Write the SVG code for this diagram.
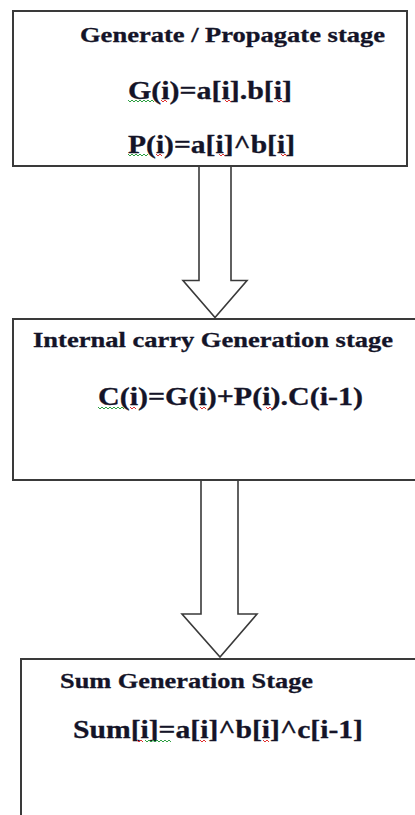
<svg xmlns="http://www.w3.org/2000/svg" width="415" height="815" viewBox="0 0 415 815">
<style>
.box{fill:#fff;stroke:#3a3a3a;stroke-width:2}
.arrow{fill:#fff;stroke:#3a3a3a;stroke-width:1.6;stroke-linejoin:miter}
.t{font-family:"Liberation Serif","Times New Roman",serif;font-weight:bold;fill:#141428;stroke:#141428;stroke-width:0.3}
.title{font-size:21px}
.eq{font-size:25px}
.sqg{fill:none;stroke:#2ea043;stroke-width:1}
.sqr{fill:none;stroke:#e03030;stroke-width:1}
</style>
<rect width="415" height="815" fill="#fff"/>
<g id="connectors">
<polygon class="arrow" points="199,166 199,280.5 183,280.5 215,317.5 247,280.5 231,280.5 231,166"/>
<polygon class="arrow" points="201,480 201,614 182,614 220,657 257,614 238,614 238,480"/>
</g>
<g id="node-generate">
<rect class="box" x="13" y="11" width="394" height="155"/>
<text class="t title" x="80" y="42" textLength="305" lengthAdjust="spacingAndGlyphs">Generate / Propagate stage</text>
<text class="t eq" x="128" y="99" textLength="164" lengthAdjust="spacingAndGlyphs">G(i)=a[i].b[i]</text>
<text class="t eq" x="128" y="153" textLength="167" lengthAdjust="spacingAndGlyphs">P(i)=a[i]^b[i]</text>
<path class="sqg" d="M128,100 l2,2 l2,-2 l2,2 l2,-2 l2,2 l2,-2 l2,2 l2,-2 l2,2 l2,-2 l2,2 l2,-2 l2,2"/>
<path class="sqr" d="M161,100 l2,2 l2,-2 l2,2"/>
<path class="sqr" d="M225,100 l2,2 l2,-2 l2,2"/>
<path class="sqr" d="M277,100 l2,2 l2,-2 l2,2"/>
<path class="sqg" d="M128,154 l2,2 l2,-2 l2,2 l2,-2 l2,2 l2,-2 l2,2 l2,-2 l2,2 l2,-2"/>
<path class="sqr" d="M156,154 l2,2 l2,-2 l2,2"/>
<path class="sqr" d="M219,154 l2,2 l2,-2 l2,2"/>
<path class="sqr" d="M281,154 l2,2 l2,-2 l2,2"/>
</g>
<g id="node-carry">
<rect class="box" x="13" y="319" width="410" height="161"/>
<text class="t title" x="33" y="347" textLength="360" lengthAdjust="spacingAndGlyphs">Internal carry Generation stage</text>
<text class="t eq" x="98" y="405" textLength="265" lengthAdjust="spacingAndGlyphs">C(i)=G(i)+P(i).C(i-1)</text>
<path class="sqg" d="M98,407 l2,2 l2,-2 l2,2 l2,-2 l2,2 l2,-2 l2,2 l2,-2 l2,2 l2,-2 l2,2 l2,-2 l2,2"/>
<path class="sqr" d="M130,407 l2,2 l2,-2 l2,2"/>
<path class="sqr" d="M200,407 l2,2 l2,-2 l2,2"/>
<path class="sqr" d="M266,407 l2,2 l2,-2 l2,2"/>
</g>
<g id="node-sum">
<rect class="box" x="21" y="659" width="410" height="170"/>
<text class="t title" x="60" y="688" textLength="253" lengthAdjust="spacingAndGlyphs">Sum Generation Stage</text>
<text class="t eq" x="73" y="738" textLength="290" lengthAdjust="spacingAndGlyphs">Sum[i]=a[i]^b[i]^c[i-1]</text>
<path class="sqr" d="M137,740 l2,2 l2,-2 l2,2"/>
<path class="sqg" d="M145,740 l2,2 l2,-2 l2,2 l2,-2 l2,2 l2,-2 l2,2 l2,-2 l2,2 l2,-2 l2,2 l2,-2 l2,2"/>
<path class="sqr" d="M200,740 l2,2 l2,-2 l2,2"/>
<path class="sqr" d="M263,740 l2,2 l2,-2 l2,2"/>
</g>
</svg>
